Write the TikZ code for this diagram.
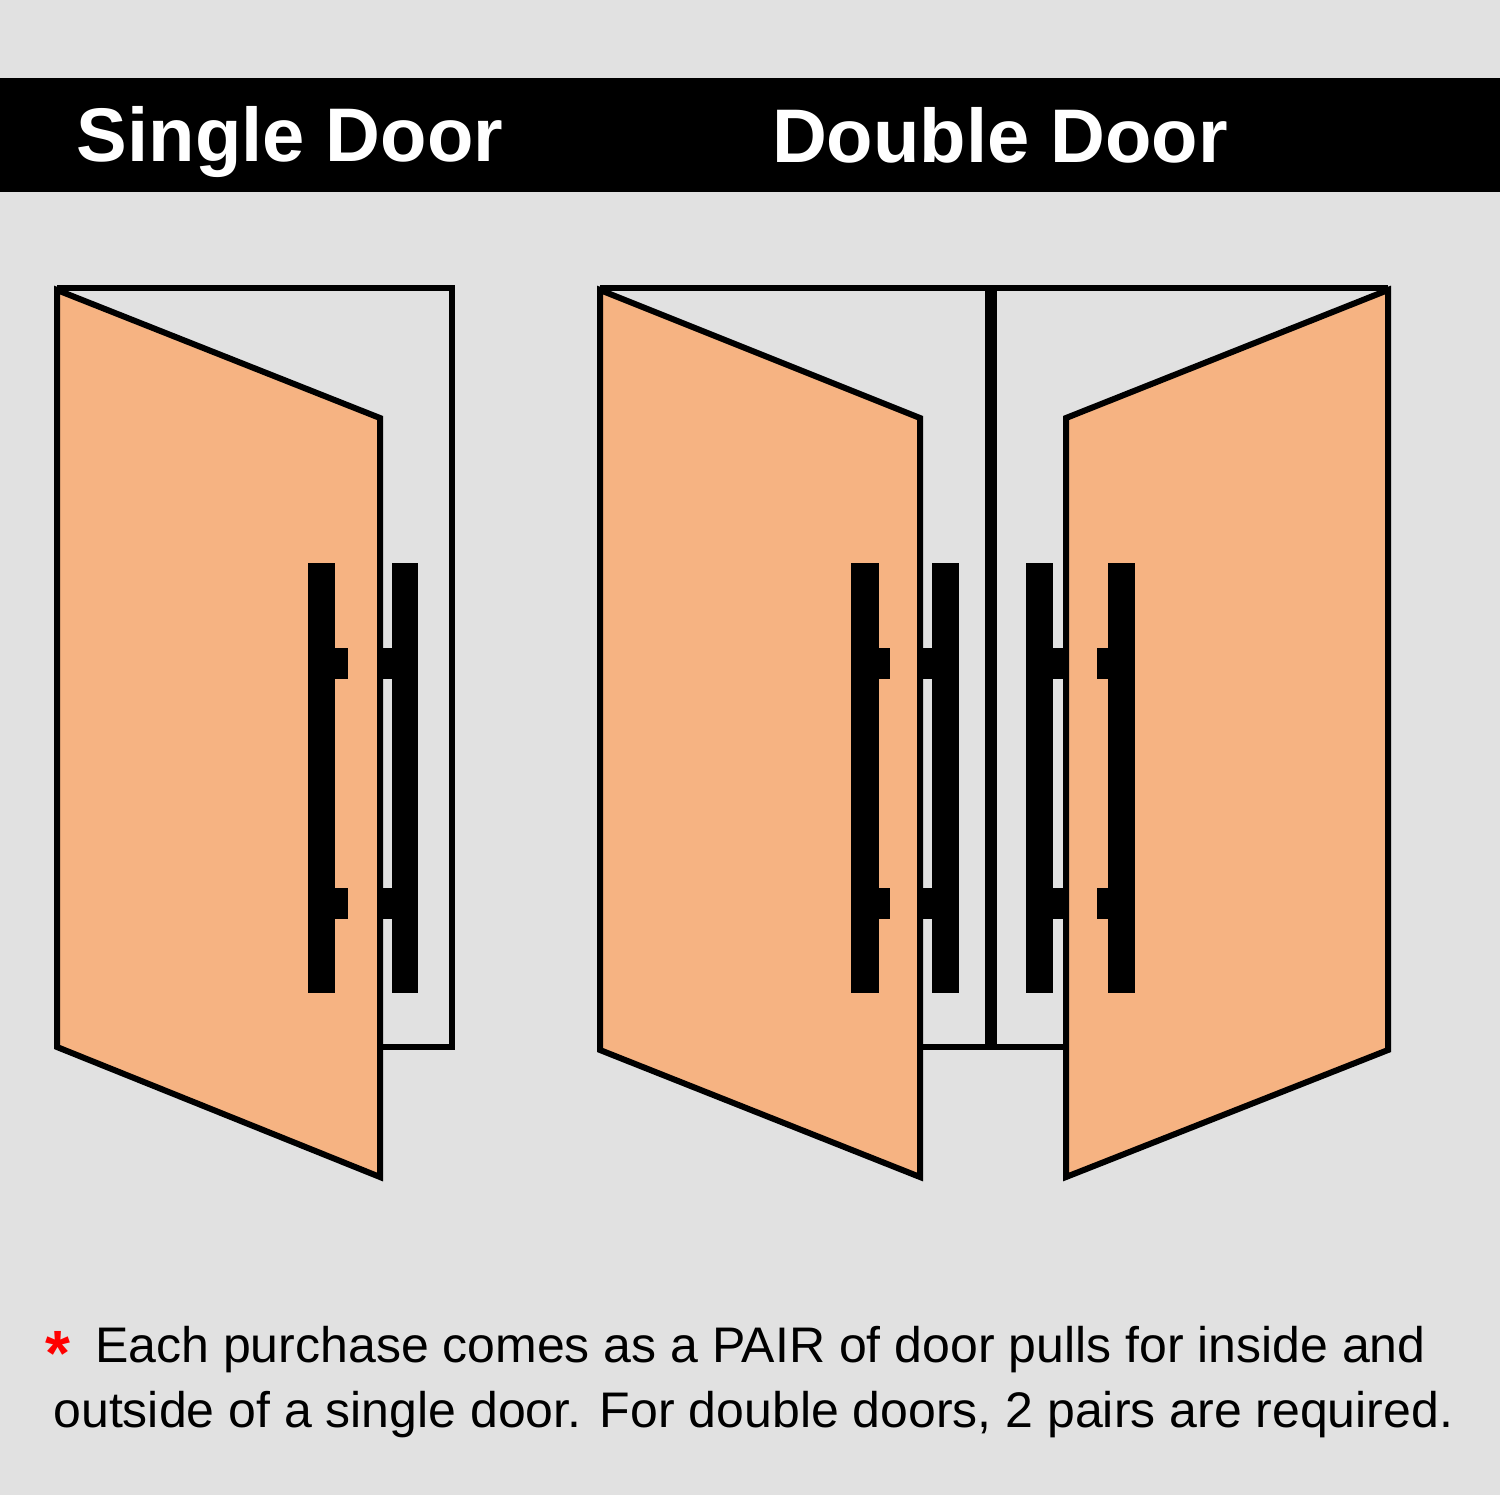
\documentclass[tikz,border=0pt]{standalone}
\usepackage{fontspec}
\setmainfont{Liberation Sans}
\begin{document}
\begin{tikzpicture}[x=0.5pt,y=-0.5pt,
  ln/.style={line width=3pt,line join=miter},
  door/.style={ln,fill=doorc},
  note/.style={anchor=base west,font=\fontsize{25}{30}\selectfont,inner sep=0}]
\definecolor{bg}{HTML}{E1E1E1}
\definecolor{doorc}{HTML}{F6B382}
\fill[bg] (0,0) rectangle (1500,1495);
\useasboundingbox (0,0) rectangle (1500,1495);
\fill[black] (0,78) rectangle (1500,192);
\node[text=white,font=\bfseries\fontsize{38}{44}\selectfont] (t1) at (290,142) {Single Door};
\node[text=white,font=\bfseries\fontsize{38}{44}\selectfont] (t2) at (1000,135) {Double Door};
% single door frame
\draw[ln] (57,288) -- (452,288) -- (452,1047) -- (380,1047);
\draw[door] (57,290) -- (380,418) -- (380,1177) -- (57,1047) -- cycle;
% single handles
\fill (308,563) rectangle (335,993);
\fill (335,648) rectangle (348,679);
\fill (335,888) rectangle (348,919);
\fill (392,563) rectangle (418,993);
\fill (380,648) rectangle (392,679);
\fill (380,888) rectangle (392,919);
% double frame
\draw[ln] (600,288) -- (1388,288);
\fill (985,288) rectangle (997,1047);
\draw[ln] (920,1047) -- (1066,1047);
\draw[door] (600,290) -- (920,418) -- (920,1177) -- (600,1050) -- cycle;
\draw[door] (1388,290) -- (1066,418) -- (1066,1177) -- (1388,1050) -- cycle;
% left door handles
\fill (851,563) rectangle (879,993);
\fill (879,648) rectangle (890,679);
\fill (879,888) rectangle (890,919);
\fill (932,563) rectangle (959,993);
\fill (920,648) rectangle (932,679);
\fill (920,888) rectangle (932,919);
% right door handles
\fill (1026,563) rectangle (1053,993);
\fill (1053,648) rectangle (1066,679);
\fill (1053,888) rectangle (1066,919);
\fill (1108,563) rectangle (1135,993);
\fill (1097,648) rectangle (1108,679);
\fill (1097,888) rectangle (1108,919);
% footnote
\node[note,text=red,font=\bfseries\fontsize{32}{30}\selectfont] (star) at (45,1375) {*};
\node[note] (n1) at (95,1362) {Each purchase comes as a PAIR of door pulls for inside and};
\node[note] (n2) at (53,1427) {outside of a single door. For double doors, 2 pairs are required.};
\end{tikzpicture}
\end{document}
